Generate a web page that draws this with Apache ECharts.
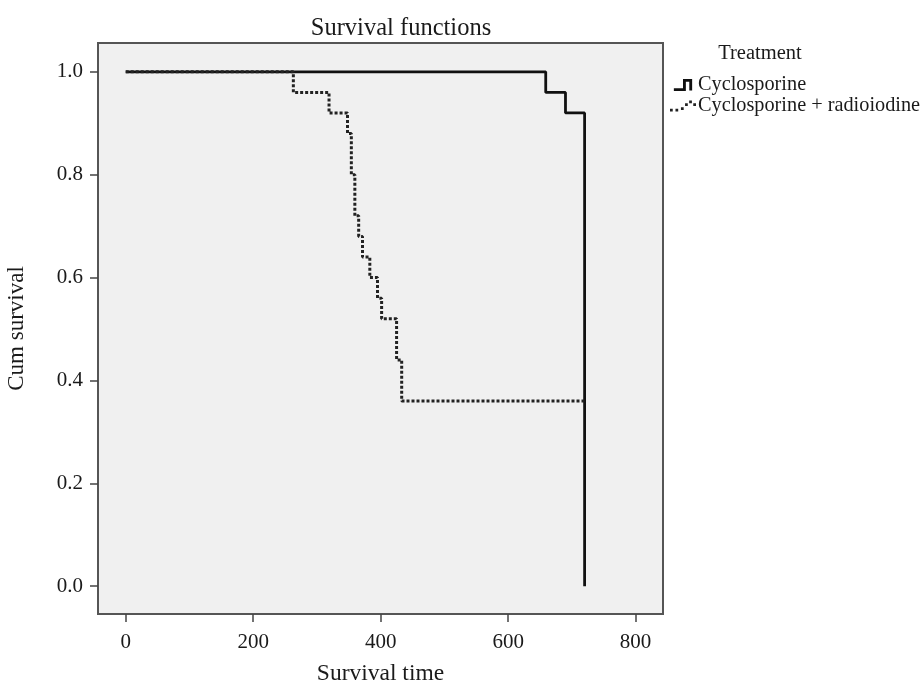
<!DOCTYPE html>
<html lang="en">
<head>
    <meta charset="UTF-8">
    <title>Survival functions</title>
    <script src="https://cdn.jsdelivr.net/npm/echarts@6/dist/echarts.min.js"></script>
    <style>
        html, body { margin: 0; padding: 0; background: #fff; }
        #chart { width: 924px; height: 684px; }
    </style>
</head>
<body>
    <div id="chart"></div>
    <script>
        // Kaplan-Meier steps
        var cycloTimes = [0, 659, 690, 720];
        var cycloSurv = [1.0, 0.96, 0.92, 0.0];

        var radioTimes = [0, 263, 319, 348, 354, 359.5, 365.5, 371.5, 383, 395, 401.5, 425, 433, 720];
        var radioSurv = [1.0, 0.96, 0.92, 0.88, 0.80, 0.72, 0.68, 0.64, 0.60, 0.56, 0.52, 0.44, 0.36, 0.36];

        var xTicks = [0, 200, 400, 600, 800];
        var yTicks = [0.0, 0.2, 0.4, 0.6, 0.8, 1.0];

        var seriesNames = ["Cyclosporine", "Cyclosporine + radioiodine"];

        function pairs(xs, ys) {
            var out = [];
            for (var i = 0; i < xs.length; i++) out.push([xs[i], ys[i]]);
            return out;
        }

        var font = "'Liberation Serif', 'Times New Roman', serif";
        var ink = "#1a1a1a";

        var chart = echarts.init(document.getElementById("chart"));

        chart.setOption({
            backgroundColor: "#ffffff",
            animation: false,
            title: [{
                text: "Survival functions",
                left: 396, top: 11, textAlign: "center",
                textStyle: { fontFamily: font, fontSize: 24.5, fontWeight: "normal", color: ink }
            }, {
                text: "Treatment",
                left: 755, top: 38, textAlign: "center",
                textStyle: { fontFamily: font, fontSize: 20.5, fontWeight: "normal", color: ink }
            }],
            legend: {
                orient: "vertical",
                left: 665, top: 70,
                itemWidth: 26, itemHeight: 12, itemGap: 1,
                textStyle: { fontFamily: font, fontSize: 20.3, color: ink, padding: [0, 0, 0, -3] },
                data: [{
                    name: seriesNames[0],
                    icon: "path://M0,9 L8,9 L8,1 L16,1 L16,11 L13.5,11 L13.5,3.5 L10.5,3.5 L10.5,11.5 L0,11.5 Z"
                }, {
                    name: seriesNames[1],
                    icon: "path://M0,9h2v2h-2z M4,9h2v2h-2z M8,8h2v2h-2z M11,5h2v2h-2z M14,3h2v2h-2z M17,5h2v2h-2z"
                }]
            },
            grid: {
                left: 98, right: 261, top: 43, bottom: 70,
                outerBoundsMode: "none",
                containLabel: false,
                show: true,
                backgroundColor: "#f0f0f0",
                borderColor: "#555555",
                borderWidth: 2
            },
            xAxis: {
                type: "value",
                min: -43.5, max: 843,
                name: "Survival time",
                nameLocation: "middle",
                nameGap: 48,
                nameTextStyle: { fontFamily: font, fontSize: 23.5, color: ink },
                splitLine: { show: false },
                axisLine: { show: true, onZero: false, lineStyle: { color: "#555555", width: 2 } },
                axisTick: { show: true, length: 8, customValues: xTicks, lineStyle: { color: "#444", width: 1.5 } },
                axisLabel: {
                    customValues: xTicks, margin: 18,
                    fontFamily: font, fontSize: 21, color: ink
                }
            },
            yAxis: {
                type: "value",
                min: -0.054, max: 1.056,
                name: "Cum survival",
                nameLocation: "middle",
                nameGap: 70,
                nameTextStyle: { fontFamily: font, fontSize: 23, color: ink },
                splitLine: { show: false },
                axisLine: { show: true, onZero: false, lineStyle: { color: "#555555", width: 2 } },
                axisTick: { show: true, length: 8, customValues: yTicks, lineStyle: { color: "#444", width: 1.5 } },
                axisLabel: {
                    customValues: yTicks, margin: 15,
                    fontFamily: font, fontSize: 21, color: ink,
                    formatter: function (v) { return v.toFixed(1); }
                }
            },
            series: [{
                name: seriesNames[0],
                type: "line",
                step: "end",
                showSymbol: false,
                data: pairs(cycloTimes, cycloSurv),
                color: "#111111",
                lineStyle: { color: "#111111", width: 2.8 },
                z: 3
            }, {
                name: seriesNames[1],
                type: "line",
                step: "end",
                showSymbol: false,
                data: pairs(radioTimes, radioSurv),
                color: "#222222",
                lineStyle: { color: "#222222", width: 3, type: [3, 2], cap: "butt" },
                z: 4
            }]
        });
    </script>
</body>
</html>
